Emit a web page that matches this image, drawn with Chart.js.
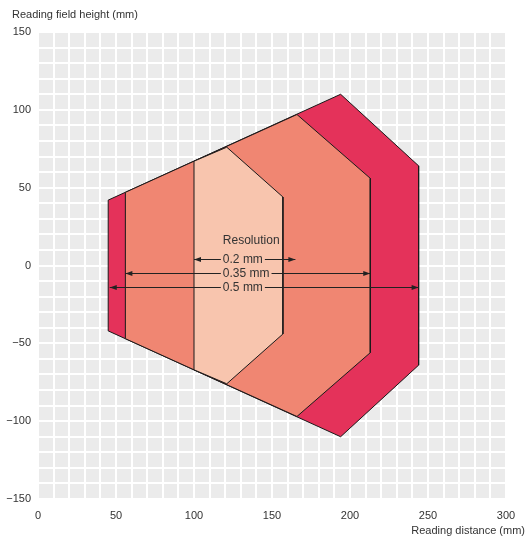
<!DOCTYPE html>
<html>
<head>
<meta charset="utf-8">
<script src="https://cdn.jsdelivr.net/npm/chart.js@4.4.1/dist/chart.umd.min.js"></script>
<style>
html,body{margin:0;padding:0;background:#fff;}
#wrap{position:relative;width:528px;height:538px;}
</style>
</head>
<body>
<div id="wrap"><canvas id="c" width="528" height="538"></canvas></div>
<script>
// Field polygons (mm): reading distance x, reading field height y
const field05X  = [45, 194, 244, 244, 194, 45, 45];
const field05Y  = [42, 110, 64, -64, -110, -42, 42];
const field035X = [56, 166, 213, 213, 166, 56, 56];
const field035Y = [47, 97, 56, -56, -97, -47, 47];
const field02X  = [100, 121, 157, 157, 121, 100, 100];
const field02Y  = [67, 76, 44, -44, -76, -67, 67];

// Resolution arrows
const resLabels = ['0.2 mm', '0.35 mm', '0.5 mm'];
const arrowFrom = [100, 56, 46];
const arrowTo   = [165, 213, 244];
const arrowY    = [4, -5, -14];
const labelX    = 118.5;
const titleText = 'Resolution';
const titleY    = 16;

const xTicks = [0, 50, 100, 150, 200, 250, 300];
const yTicks = [-150, -100, -50, 0, 50, 100, 150];

const FONT = '"Liberation Sans", Arial, sans-serif';
const TXT = '#333333';

function pts(xs, ys){ return xs.map((x,i)=>({x:x, y:ys[i]})); }

const bgPlugin = {
  id:'bg',
  beforeDraw(chart){
    const {ctx, chartArea:a} = chart;
    ctx.save();
    ctx.fillStyle = '#ebebeb';
    ctx.fillRect(a.left, a.top, a.right-a.left, a.bottom-a.top);
    ctx.restore();
  }
};

const annoPlugin = {
  id:'anno',
  afterDatasetsDraw(chart){
    const ctx = chart.ctx;
    const xs = chart.scales.x, ys = chart.scales.y;
    ctx.save();
    ctx.font = '12px ' + FONT;
    ctx.textBaseline = 'middle';
    ctx.textAlign = 'left';
    ctx.fillStyle = TXT;
    ctx.strokeStyle = '#222';
    ctx.lineWidth = 1;
    const lx = xs.getPixelForValue(labelX);
    ctx.fillText(titleText, lx, ys.getPixelForValue(titleY));
    for (let i=0;i<resLabels.length;i++){
      const y = Math.round(ys.getPixelForValue(arrowY[i])) + 0.5;
      const x1 = xs.getPixelForValue(arrowFrom[i]);
      const x2 = xs.getPixelForValue(arrowTo[i]);
      const w = ctx.measureText(resLabels[i]).width;
      ctx.fillStyle = TXT;
      ctx.fillText(resLabels[i], lx, y);
      ctx.beginPath();
      ctx.moveTo(x1, y); ctx.lineTo(lx-2, y);
      ctx.moveTo(lx+w+2, y); ctx.lineTo(x2, y);
      ctx.stroke();
      ctx.fillStyle = '#222';
      ctx.beginPath();
      ctx.moveTo(x1, y); ctx.lineTo(x1+7, y-2.5); ctx.lineTo(x1+7, y+2.5); ctx.closePath(); ctx.fill();
      ctx.beginPath();
      ctx.moveTo(x2, y); ctx.lineTo(x2-7, y-2.5); ctx.lineTo(x2-7, y+2.5); ctx.closePath(); ctx.fill();
    }
    // axis titles
    ctx.fillStyle = TXT;
    ctx.font = '11px ' + FONT;
    ctx.textAlign = 'left';
    ctx.fillText('Reading field height (mm)', 12, 15);
    ctx.textAlign = 'right';
    ctx.fillText('Reading distance (mm)', 525, 531);
    ctx.restore();
  }
};

function ds(xs, ys, color, order){
  return {
    data: pts(xs, ys),
    showLine:true,
    fill:'shape',
    backgroundColor: color,
    borderColor:'#1a1a1a',
    borderWidth:1,
    pointRadius:0,
    tension:0,
    order: order
  };
}

new Chart(document.getElementById('c'), {
  type:'scatter',
  data:{ datasets:[
    ds(field02X, field02Y, '#f8c5ae', 1),
    ds(field035X, field035Y, '#f08672', 2),
    ds(field05X, field05Y, '#e4325a', 3)
  ]},
  options:{
    responsive:false,
    animation:false,
    layout:{padding:{top:32, right:22, left:0, bottom:0}},
    plugins:{legend:{display:false}, tooltip:{enabled:false}},
    scales:{
      x:{
        type:'linear', min:0, max:300,
        afterBuildTicks(s){ s.ticks = []; for(let v=0; v<=300; v+=10) s.ticks.push({value:v}); },
        afterFit(s){ s.height = 39; },
        grid:{color:'#ffffff', lineWidth:2, drawTicks:false},
        border:{display:false},
        ticks:{
          autoSkip:false, maxRotation:0, padding:10,
          color:TXT, font:{family:FONT, size:11},
          callback(v){ return xTicks.includes(v) ? String(v) : ''; }
        }
      },
      y:{
        type:'linear', min:-150, max:150,
        afterBuildTicks(s){ s.ticks = []; for(let v=-150; v<=150; v+=10) s.ticks.push({value:v}); },
        afterFit(s){ s.width = 38; },
        grid:{color:'#ffffff', lineWidth:2, drawTicks:false},
        border:{display:false},
        ticks:{
          autoSkip:false, padding:7,
          color:TXT, font:{family:FONT, size:11},
          callback(v){ return yTicks.includes(v) ? (v<0 ? '\u2212'+Math.abs(v) : String(v)) : ''; }
        }
      }
    }
  },
  plugins:[bgPlugin, annoPlugin]
});
</script>
</body>
</html>
